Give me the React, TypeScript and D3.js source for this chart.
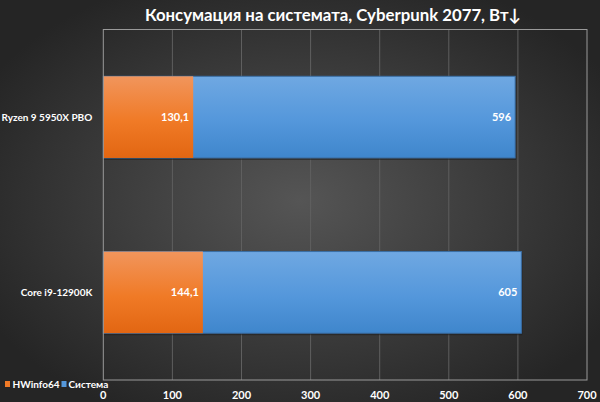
import React from "react"
import * as d3 from "d3"

const categories = ["Ryzen 9 5950X PBO", "Core i9-12900K"]
const hwinfo = [130.1, 144.1]
const sistema = [596, 605]
const xTicks = [0, 100, 200, 300, 400, 500, 600, 700]
const title = "Консумация на системата, Cyberpunk 2077, Вт↓"
const seriesNames = ["HWinfo64", "Система"]

const W = 600
const H = 402
const margin = { top: 29.5, right: 13, bottom: 22, left: 103.3 }
const font = "Lato, 'Open Sans', sans-serif"

const fmt = (v: number) => String(v).replace(".", ",")

export default function App() {
  const x = d3
    .scaleLinear()
    .domain([0, 700])
    .range([margin.left, W - margin.right])

  const y = d3
    .scaleBand()
    .domain(categories)
    .range([margin.top, H - margin.bottom])
    .paddingInner(0.534)
    .paddingOuter(0.267)

  const plotTop = margin.top
  const plotBottom = H - margin.bottom
  const bw = y.bandwidth()

  return (
    <svg
      width={W}
      height={H}
      style={{ position: "absolute", left: 0, top: 0 }}
      fontFamily={font}
    >
      <defs>
        <radialGradient id="bg" cx="50%" cy="50%" r="60%">
          <stop offset="0%" stopColor="#555555" />
          <stop offset="100%" stopColor="#252525" />
        </radialGradient>
        <linearGradient id="orange" x1="0" y1="0" x2="0" y2="1">
          <stop offset="0%" stopColor="#f1955c" />
          <stop offset="55%" stopColor="#f07a26" />
          <stop offset="100%" stopColor="#e26612" />
        </linearGradient>
        <linearGradient id="blue" x1="0" y1="0" x2="0" y2="1">
          <stop offset="0%" stopColor="#6fa8e2" />
          <stop offset="55%" stopColor="#5497db" />
          <stop offset="100%" stopColor="#3f86cc" />
        </linearGradient>
      </defs>

      <rect width={W} height={H} fill="url(#bg)" />

      {/* gridlines */}
      {xTicks.slice(1, -1).map((t) => (
        <line
          key={t}
          x1={x(t)}
          x2={x(t)}
          y1={plotTop}
          y2={plotBottom}
          stroke="#5f5f5f"
          strokeWidth={1}
        />
      ))}

      {/* bars */}
      {categories.map((c, i) => {
        const y0 = y(c)!
        return (
          <g key={c}>
            <rect
              x={x(0)}
              y={y0 + 2}
              width={x(sistema[i]) - x(0) + 1}
              height={bw}
              fill="#1e1e1e"
              opacity={0.55}
            />
            <rect
              x={x(0)}
              y={y0}
              width={x(sistema[i]) - x(0)}
              height={bw}
              fill="url(#blue)"
              stroke="#3b6fa5"
              strokeWidth={1}
            />
            <rect
              x={x(0)}
              y={y0}
              width={x(hwinfo[i]) - x(0)}
              height={bw}
              fill="url(#orange)"
            />
            <text
              x={x(hwinfo[i]) - 4}
              y={y0 + bw / 2}
              dy="0.35em"
              textAnchor="end"
              fill="#ffffff"
              fontSize={11}
              fontWeight="bold"
            >
              {fmt(hwinfo[i])}
            </text>
            <text
              x={x(sistema[i]) - 4}
              y={y0 + bw / 2}
              dy="0.35em"
              textAnchor="end"
              fill="#ffffff"
              fontSize={11}
              fontWeight="bold"
            >
              {fmt(sistema[i])}
            </text>
            <text
              x={margin.left - 11}
              y={y0 + bw / 2}
              dy="0.35em"
              textAnchor="end"
              fill="#ffffff"
              fontSize={10}
              fontWeight="bold"
            >
              {c}
            </text>
          </g>
        )
      })}

      {/* plot border */}
      <rect
        x={x(0)}
        y={plotTop}
        width={x(700) - x(0)}
        height={plotBottom - plotTop}
        fill="none"
        stroke="#9a9a9a"
        strokeWidth={1}
      />

      {/* x axis labels */}
      {xTicks.map((t) => (
        <text
          key={t}
          x={x(t)}
          y={plotBottom + 15}
          dy="0.35em"
          textAnchor="middle"
          fill="#ffffff"
          fontSize={11}
          fontWeight="bold"
        >
          {t}
        </text>
      ))}

      {/* legend */}
      <rect x={5} y={381} width={5} height={6} fill="#f07a26" />
      <text x={12.5} y={384} dy="0.35em" fill="#ffffff" fontSize={10} fontWeight="bold">
        {seriesNames[0]}
      </text>
      <rect x={61.5} y={381} width={5} height={6} fill="#5497db" />
      <text x={68.5} y={384} dy="0.35em" fill="#ffffff" fontSize={10} fontWeight="bold">
        {seriesNames[1]}
      </text>

      {/* title */}
      <text
        x={333}
        y={15}
        dy="0.35em"
        textAnchor="middle"
        fill="#ffffff"
        fontSize={16.8}
        fontWeight="bold"
      >
        {title}
      </text>
    </svg>
  )
}
